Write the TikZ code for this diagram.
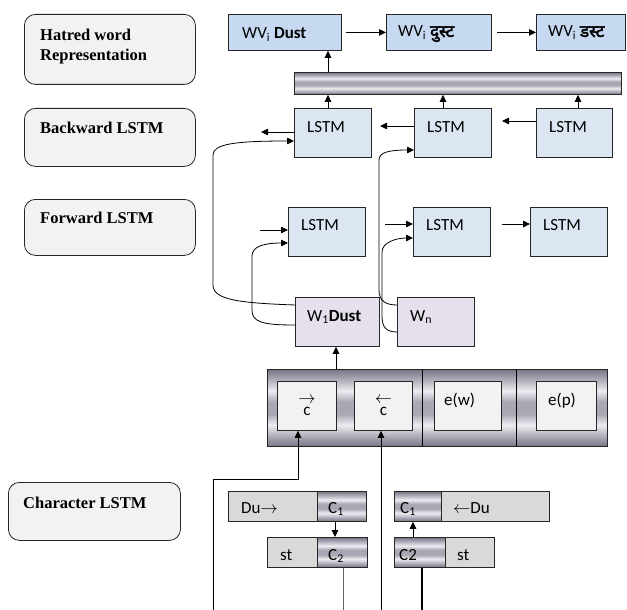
\documentclass[tikz,border=0pt]{standalone}
\usepackage{fontspec}
\setmainfont{Carlito}
\newfontfamily\serifb{Liberation Serif}
\newfontfamily\deva[Script=Devanagari, FakeBold=2.5]{Noto Sans}
\usetikzlibrary{arrows.meta,calc}
\definecolor{wvblue}{RGB}{198,217,241}
\definecolor{lstmblue}{RGB}{220,230,242}
\definecolor{lav}{RGB}{229,224,236}
\definecolor{lgray}{RGB}{242,242,242}
\definecolor{dgray}{RGB}{217,217,217}
\definecolor{mA}{RGB}{118,118,132}
\definecolor{mB}{RGB}{236,236,241}
\definecolor{mC}{RGB}{168,168,180}
\pgfdeclareverticalshading{metal}{100bp}{color(0bp)=(mA); color(25bp)=(mA); color(31bp)=(mC); color(39bp)=(mB); color(46bp)=(mC); color(54bp)=(mC); color(61bp)=(mB); color(69bp)=(mC); color(75bp)=(mA); color(100bp)=(mA)}
\newcommand\fsz{\fontsize{17}{20}\selectfont}
\newcommand\fser{\serifb\bfseries\fontsize{16.5}{20}\selectfont}
\tikzset{
  bx/.style n args={2}{draw=black!85, line width=0.8pt, anchor=north west, inner sep=0pt,
    minimum width=#1pt, minimum height=#2pt},
  tx/.style n args={3}{label={[anchor=base west, inner sep=0pt, xshift=#1pt, yshift=-#2pt, font=\fsz]north west:{#3}}},
  sx/.style n args={3}{label={[anchor=base west, inner sep=0pt, xshift=#1pt, yshift=-#2pt, font=\fser]north west:{#3}}},
  lab/.style={rounded corners=11pt, fill=lgray},
  metalbox/.style={shading=metal},
  con/.style={line width=0.8pt, -{Triangle[length=7pt,width=6.5pt]}},
  plain/.style={line width=0.8pt},
  vecc/.style={fill=lgray, font=\fsz, align=center},
}
\begin{document}
\begin{tikzpicture}[x=1pt,y=-1pt]
\useasboundingbox (0,0) rectangle (627,610);
% left labels
\node[bx={171}{70}, lab, label={[anchor=north west, inner sep=0pt, xshift=16pt, yshift=-14.5pt, font=\fser, align=left]north west:{Hatred word\\Representation}}] (hw) at (24,14) {};
\node[bx={171}{58}, lab, sx={16}{25}{Backward LSTM}] (bl) at (24,108) {};
\node[bx={171}{56}, lab, sx={16}{24}{Forward LSTM}] (fl) at (24,199) {};
\node[bx={172}{58}, lab, sx={15}{26}{Character LSTM}] (cl) at (8,482) {};
% word representation
\node[bx={113}{36}, fill=wvblue, tx={14}{25}{WV\textsubscript{i} \textbf{Dust}}] (wv1) at (228,14) {};
\node[bx={105}{36}, fill=wvblue, tx={12}{23}{WV\textsubscript{i} {\deva\bfseries दुस्ट}}] (wv2) at (386,14) {};
\node[bx={89}{36}, fill=wvblue, tx={12}{23}{WV\textsubscript{i} {\deva\bfseries डस्ट}}] (wv3) at (536,14) {};
\node[bx={327}{22}, metalbox] (bar) at (294,72) {};
% backward
\node[bx={77}{49}, fill=lstmblue, tx={13}{24}{LSTM}] (b1) at (294,108) {};
\node[bx={77}{49}, fill=lstmblue, tx={13}{24}{LSTM}] (b2) at (414,108) {};
\node[bx={76}{49}, fill=lstmblue, tx={13}{24}{LSTM}] (b3) at (536,108) {};
% forward
\node[bx={77}{49}, fill=lstmblue, tx={13}{23}{LSTM}] (f1) at (288,207) {};
\node[bx={77}{49}, fill=lstmblue, tx={13}{23}{LSTM}] (f2) at (413,207) {};
\node[bx={77}{49}, fill=lstmblue, tx={13}{23}{LSTM}] (f3) at (530,207) {};
% words
\node[bx={84}{49}, fill=lav, tx={12}{24}{W\textsubscript{1}\textbf{Dust}}] (w1) at (295,297) {};
\node[bx={77}{49}, fill=lav, tx={13}{24}{W\textsubscript{n}}] (wn) at (397,297) {};
% embedding
\node[bx={340}{77}, metalbox] (emb) at (267,369) {};
\draw[plain] ($(emb.north west)+(155,0)$) -- ($(emb.south west)+(155,0)$);
\draw[plain] ($(emb.north west)+(249,0)$) -- ($(emb.south west)+(249,0)$);
\node[bx={59}{49}, vecc] (cf) at (277,381) {$\rightarrow$\\[-8pt]c};
\node[bx={58}{49}, vecc] (cb) at (354,381) {$\leftarrow$\\[-8pt]c};
\node[bx={67}{49}, fill=lgray, tx={10}{24}{e(w)}] (ew) at (434,381) {};
\node[bx={60}{49}, fill=lgray, tx={12}{24}{e(p)}] (ep) at (536,381) {};
% character lstm
\node[bx={89}{30}, fill=dgray, tx={13}{22}{Du$\rightarrow$}] (du1) at (228,491) {};
\node[bx={49}{30}, metalbox, tx={11}{22}{C\textsubscript{1}}] (c1l) at (317,491) {};
\node[bx={50}{30}, fill=dgray, tx={13}{23}{st}] (st1) at (267,537) {};
\node[bx={50}{30}, metalbox, tx={11}{23}{C\textsubscript{2}}] (c2l) at (317,537) {};
\node[bx={47}{30}, metalbox, tx={6}{22}{C\textsubscript{1}}] (c1r) at (394,491) {};
\node[bx={108}{30}, fill=dgray, tx={12}{22}{$\leftarrow$Du}] (du2) at (441,491) {};
\node[bx={51}{30}, metalbox, tx={5}{23}{C2}] (c2r) at (394,537) {};
\node[bx={49}{30}, fill=dgray, tx={12}{23}{st}] (st2) at (445,537) {};
% connectors top
\draw[con] ($(wv1.east)+(4,0)$) -- (wv2.west);
\draw[con] ($(wv2.east)+(5,0)$) -- (wv3.west);
\draw[con] ($(bar.north west)+(34,0)$) -- ($(wv1.south west)+(100,0)$);
\draw[con] ($(b1.north west)+(34,0)$) -- ($(bar.south west)+(34,0)$);
\draw[con] ($(b2.north west)+(29,0)$) -- ($(bar.south west)+(149,0)$);
\draw[con] ($(b3.north west)+(42,0)$) -- ($(bar.south west)+(284,0)$);
\coordinate (b1l) at (261,132);
\coordinate (b2l) at (380,126);
\coordinate (b3l) at (502,121);
\draw[con] (b1.west |- b1l) -- (b1l);
\draw[con] (b2.west |- b2l) -- (b2l);
\draw[con] (b3.west |- b3l) -- (b3l);
\coordinate (f1i) at (260,230);
\coordinate (f2i) at (385,224);
\coordinate (f3i) at (502,224);
\draw[con] (f1i) -- (f1.west |- f1i);
\draw[con] (f2i) -- (f2.west |- f2i);
\draw[con] (f3i) -- (f3.west |- f3i);
% curved connectors
\draw[con] ($(w1.north west)+(0,8)$) .. controls (240,303) and (213,300) .. (213,285) -- (213,155) .. controls (213,144) and (235,141) .. ($(b1.north west)+(0,33)$);
\draw[con] ($(w1.north west)+(0,28)$) .. controls (262,325) and (252,322) .. (252,310) -- (252,256) .. controls (252,246) and (265,243) .. ($(f1.north west)+(0,36)$);
\draw[con] ($(wn.north west)+(0,8)$) .. controls (386,305) and (379,301) .. (379,290) -- (379,160) .. controls (379,152) and (390,150) .. ($(b2.north west)+(0,42)$);
\draw[con] ($(wn.north west)+(0,35)$) .. controls (386,332) and (382,327) .. (382,316) -- (382,252) .. controls (382,243) and (395,238) .. ($(f2.north west)+(0,31)$);
\draw[con] ($(emb.north west)+(69,0)$) -- ($(w1.south west)+(41,0)$);
% character connectors
\coordinate (bL) at (213,610);
\coordinate (bM) at (381,610);
\coordinate (bG) at (343,610);
\coordinate (bR) at (422,610);
\draw[con, line width=1pt] (bL) |- ($(cf.south west)+(21,49)$) -- ($(cf.south west)+(21,0)$);
\draw[con] (bM) -- ($(cb.south west)+(27,0)$);
\draw[con] ($(c1l.south west)+(18,0)$) -- ($(c2l.north west)+(18,0)$);
\draw[line width=0.8pt, black!60] ($(c2l.south west)+(26,0)$) -- (bG);
\draw[con] ($(c2r.north west)+(19,0)$) -- ($(c1r.south west)+(19,0)$);
\draw[line width=1.3pt] ($(c2r.south west)+(28,0)$) -- (bR);
\end{tikzpicture}
\end{document}
